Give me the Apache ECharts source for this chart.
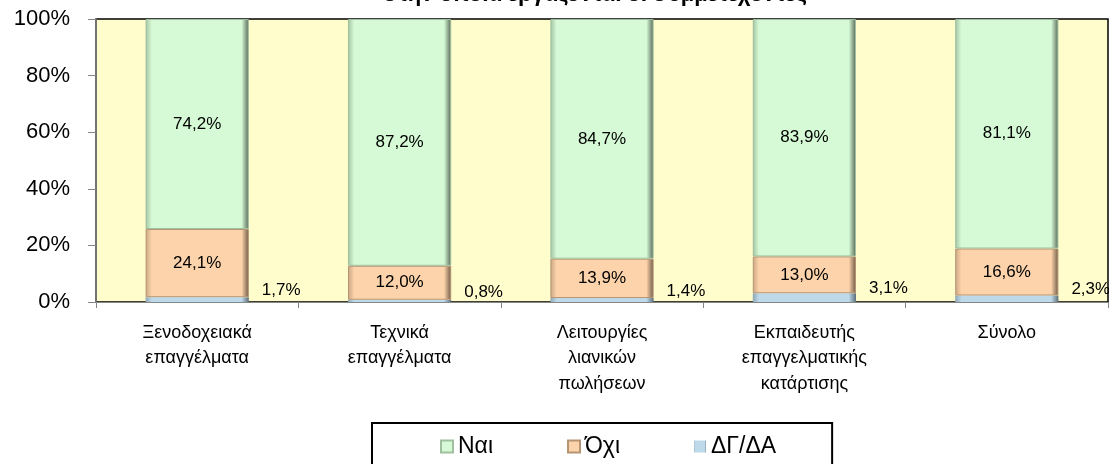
<!DOCTYPE html>
<html>
<head>
<meta charset="utf-8">
<script src="https://cdn.jsdelivr.net/npm/echarts@6/dist/echarts.min.js"></script>
<style>
  html, body {margin: 0; padding: 0; background: #fff;}
  #chart {width: 1109px; height: 464px;}
</style>
</head>
<body>
<div id="chart"></div>
<script>
// δεδομένα
var categories = ['Ξενοδοχειακά\nεπαγγέλματα', 'Τεχνικά\nεπαγγέλματα', 'Λειτουργίες\nλιανικών\nπωλήσεων', 'Εκπαιδευτής\nεπαγγελματικής\nκατάρτισης', 'Σύνολο']
var nai = [74.2, 87.2, 84.7, 83.9, 81.1]
var oxi = [24.1, 12.0, 13.9, 13.0, 16.6]
var dgda = [1.7, 0.8, 1.4, 3.1, 2.3]

var font = 'Liberation Sans'

function bevel (base, light, dark) {
  return {
    type: 'linear', x: 0, y: 0, x2: 1, y2: 0,
    colorStops: [
      {offset: 0, color: light},
      {offset: 0.06, color: base},
      {offset: 0.93, color: base},
      {offset: 1, color: dark}
    ]
  }
}

function pct (p) {
  return p.value.toFixed(1).replace('.', ',') + '%'
}

var option = {
  backgroundColor: '#fff',
  textStyle: {fontFamily: font, color: '#000'},
  title: {
    text: 'στην οποία εργάζονται οι συμμετέχοντες',
    left: 590,
    textAlign: 'center',
    top: -21,
    textStyle: {fontFamily: font, fontSize: 22, fontWeight: 'bold', color: '#000'}
  },
  legend: {
    data: ['Ναι', 'Όχι', 'ΔΓ/ΔΑ'],
    left: 372,
    top: 423,
    padding: [12, 56, 30, 68],
    itemGap: 74,
    itemWidth: 12,
    itemHeight: 12,
    icon: 'rect',
    borderColor: '#000',
    borderWidth: 2,
    textStyle: {fontFamily: font, fontSize: 23, color: '#000'}
  },
  grid: {
    left: 96,
    right: 1,
    top: 19,
    bottom: 162,
    show: true,
    backgroundColor: '#FFFDCC',
    borderColor: '#000',
    borderWidth: 1.5
  },
  xAxis: {
    type: 'category',
    data: categories,
    axisLine: {lineStyle: {color: '#868686', width: 1}},
    axisTick: {show: true, length: 6, lineStyle: {color: '#868686'}},
    axisLabel: {fontFamily: font, fontSize: 18, color: '#000', lineHeight: 25.5, margin: 18}
  },
  yAxis: {
    type: 'value',
    min: 0,
    max: 100,
    interval: 20,
    splitLine: {show: false},
    axisLine: {show: true, lineStyle: {color: '#868686', width: 1.5}},
    axisTick: {show: true, length: 8, lineStyle: {color: '#868686'}},
    axisLabel: {fontFamily: font, fontSize: 22, color: '#000', formatter: '{value}%', margin: 26}
  },
  series: [{
    name: 'ΔΓ/ΔΑ',
    type: 'bar',
    stack: 'total',
    barWidth: '51%',
    data: dgda,
    color: '#BDD9EA',
    itemStyle: {color: bevel('#BDD9EA', '#8fa6b4', '#5d6e78')},
    label: {
      show: true,
      position: 'right',
      offset: [8, -9],
      formatter: pct,
      fontFamily: font,
      fontSize: 17,
      color: '#000'
    }
  }, {
    name: 'Όχι',
    type: 'bar',
    stack: 'total',
    data: oxi,
    color: '#FCD3AA',
    itemStyle: {color: bevel('#FCD3AA', '#c9a581', '#6e5a46'), borderColor: '#b59473', borderWidth: 1},
    label: {show: true, position: 'inside', formatter: pct, fontFamily: font, fontSize: 17, color: '#000'}
  }, {
    name: 'Ναι',
    type: 'bar',
    stack: 'total',
    data: nai,
    color: '#D5FAD5',
    itemStyle: {color: bevel('#D5FAD5', '#a3c2a3', '#566656'), borderColor: '#9fbf9f', borderWidth: 1},
    label: {show: true, position: 'inside', formatter: pct, fontFamily: font, fontSize: 17, color: '#000'}
  }]
}

var chart = echarts.init(document.getElementById('chart'))
chart.setOption(option)
</script>
</body>
</html>
